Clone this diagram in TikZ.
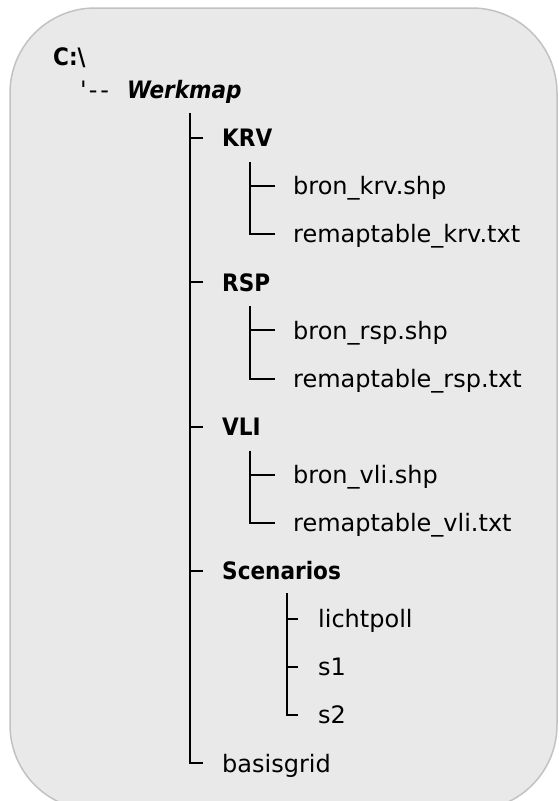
\documentclass[tikz,border=0pt]{standalone}
\usepackage{fontspec}
\setmainfont{DejaVu Sans}
\newfontfamily\condfont{DejaVu Sans Condensed}
\definecolor{boxfill}{HTML}{E9E9E9}
\definecolor{boxedge}{HTML}{C2C2C2}
\begin{document}
\begin{tikzpicture}[x=1pt,y=-1pt,
  every node/.style={inner sep=0pt, anchor=west, text height=17.5pt, text depth=0pt,
    font=\fontsize{24}{28}\selectfont},
  dirname/.style={font=\fontsize{24}{28}\selectfont\condfont\bfseries},
  rootname/.style={font=\fontsize{24}{28}\selectfont\condfont\bfseries\itshape},
  tree/.style={draw=black, line width=2pt}]
\useasboundingbox (0,0) rectangle (558,801);
\draw[fill=boxfill, draw=boxedge, line width=1.5pt, rounded corners=85pt] (10,8) rectangle (557,810);

\node[dirname] (croot) at (53,57) {C:\textbackslash};
\node (dash) at (80,90) {\textquotesingle\hspace{2pt}-\hspace{3pt}-};
\node[rootname] (werk) at (127,90) {Werkmap};

\node[dirname] (krv) at (222,138) {KRV};
\node (bronkrv) at (293,186.1) {bron\_krv.shp};
\node (remkrv) at (293,234.2) {remaptable\_krv.txt};
\node[dirname] (rsp) at (222,282.3) {RSP};
\node (bronrsp) at (293,330.4) {bron\_rsp.shp};
\node (remrsp) at (293,378.5) {remaptable\_rsp.txt};
\node[dirname] (vli) at (222,426.6) {VLI};
\node (bronvli) at (293,474.7) {bron\_vli.shp};
\node (remvli) at (293,522.8) {remaptable\_vli.txt};
\node[dirname] (scen) at (222,570.9) {Scenarios};
\node (licht) at (318,619) {lichtpoll};
\node (sone) at (318,667.1) {s1};
\node (stwo) at (318,715.2) {s2};
\node (basis) at (222,763.3) {basisgrid};

% main trunk
\coordinate (trunk) at (190,113);
\draw[tree] (trunk) |- ([xshift=-19pt]basis.west);
\foreach \n in {krv,rsp,vli,scen}
  \draw[tree] (trunk |- \n.west) -- ([xshift=-19pt]\n.west);

% KRV
\coordinate (kt) at (250,162);
\draw[tree] (kt) |- ([xshift=-18pt]remkrv.west);
\draw[tree] (kt |- bronkrv.west) -- ([xshift=-18pt]bronkrv.west);
% RSP
\coordinate (rt) at (250,306.3);
\draw[tree] (rt) |- ([xshift=-18pt]remrsp.west);
\draw[tree] (rt |- bronrsp.west) -- ([xshift=-18pt]bronrsp.west);
% VLI
\coordinate (vt) at (250,450.6);
\draw[tree] (vt) |- ([xshift=-18pt]remvli.west);
\draw[tree] (vt |- bronvli.west) -- ([xshift=-18pt]bronvli.west);
% Scenarios
\coordinate (st) at (287,593);
\draw[tree] (st) |- ([xshift=-20pt]stwo.west);
\foreach \n in {licht,sone}
  \draw[tree] (st |- \n.west) -- ([xshift=-20pt]\n.west);
\end{tikzpicture}
\end{document}
